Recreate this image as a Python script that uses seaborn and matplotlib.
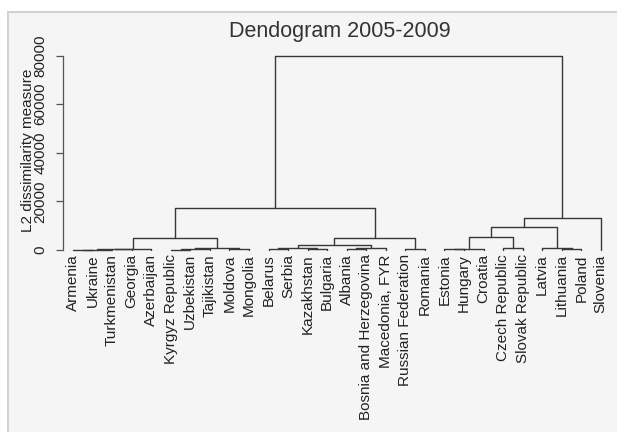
import numpy as np
import pandas as pd
import matplotlib
matplotlib.use("Agg")
import matplotlib.pyplot as plt
import seaborn as sns
from matplotlib.patches import Rectangle

# ---------------- data ----------------
leaves = ["Armenia", "Ukraine", "Turkmenistan", "Georgia", "Azerbaijan",
          "Kyrgyz Republic", "Uzbekistan", "Tajikistan", "Moldova", "Mongolia",
          "Belarus", "Serbia", "Kazakhstan", "Bulgaria", "Albania",
          "Bosnia and Herzegovina", "Macedonia, FYR", "Russian Federation", "Romania",
          "Estonia", "Hungary", "Croatia", "Czech Republic", "Slovak Republic",
          "Latvia", "Lithuania", "Poland", "Slovenia"]

# merges: node n{k} joins merge_a[k] and merge_b[k] at merge_height[k]
merge_a = ["Armenia", "n0", "n1", "n2",
           "Kyrgyz Republic", "n4", "Moldova", "n5", "n3",
           "Belarus", "Kazakhstan", "n9", "Albania", "n12", "n11",
           "Russian Federation", "n14", "n8",
           "Estonia", "n18", "Czech Republic", "n19",
           "Lithuania", "Latvia", "n21", "n24", "n17"]
merge_b = ["Ukraine", "Turkmenistan", "Georgia", "Azerbaijan",
           "Uzbekistan", "Tajikistan", "Mongolia", "n6", "n7",
           "Serbia", "Bulgaria", "n10", "Bosnia and Herzegovina", "Macedonia, FYR", "n13",
           "Romania", "n15", "n16",
           "Hungary", "Croatia", "Slovak Republic", "n20",
           "Poland", "n22", "n23", "Slovenia", "n25"]
merge_height = [100, 200, 350, 550,
                150, 350, 300, 650, 5000,
                300, 450, 800, 400, 1000, 1900,
                300, 4800, 17200,
                250, 550, 700, 5300,
                250, 650, 9400, 13200, 79700]

y_ticks = [0, 20000, 40000, 60000, 80000]
title_text = "Dendogram 2005-2009"
y_title = "L2 dissimilarity measure"

# ---------------- build link segments ----------------
pos = {name: i + 1 for i, name in enumerate(leaves)}
hgt = {name: 0.0 for name in leaves}
rows = []
for k, (a, b, h) in enumerate(zip(merge_a, merge_b, merge_height)):
    xa, xb = pos[a], pos[b]
    for x, y in [(xa, hgt[a]), (xa, h), (xb, h), (xb, hgt[b])]:
        rows.append({"x": x, "y": y, "link": k})
    pos[f"n{k}"] = (xa + xb) / 2
    hgt[f"n{k}"] = h
links = pd.DataFrame(rows)

# ---------------- figure ----------------
sns.set_theme(style="white")
plt.rcParams["font.family"] = ["Liberation Sans", "DejaVu Sans"]

W, H = 617, 432
fig = plt.figure(figsize=(W / 100, H / 100), dpi=100)
fig.patch.set_facecolor("white")
bg = Rectangle((8 / W, -0.05), 1.1, 1 - 12 / H + 0.05,
               transform=fig.transFigure, facecolor="#f5f5f5",
               edgecolor="#d2d2d2", lw=1.5, zorder=-10)
fig.patches.append(bg)

ax_l, ax_r, ax_t, ax_b = 63, 611, 55.5, 250
ax = fig.add_axes([ax_l / W, (H - ax_b) / H, (ax_r - ax_l) / W, (ax_b - ax_t) / H])
ax.set_facecolor("none")
ax.set_zorder(5)

sns.lineplot(data=links, x="x", y="y", units="link", estimator=None, sort=False,
             color="#383838", lw=1.0, ax=ax, clip_on=False)

step = 19.55
ax.set_xlim(1 - (73 - ax_l) / step, 1 + (ax_r - 73) / step)
ax.set_ylim(0, 80000)

ax.set_xticks(range(1, len(leaves) + 1))
ax.set_xticklabels(leaves, rotation=90, fontsize=11, color="#222222")
ax.tick_params(axis="x", length=0, pad=3)

ax.set_yticks(y_ticks)
ax.set_yticklabels([str(v) for v in y_ticks], rotation=90, fontsize=11, color="#222222")
for lab in ax.get_yticklabels():
    lab.set_va("center")
ax.tick_params(axis="y", left=True, length=5, width=0.9, color="#555555", pad=6)

ax.set_xlabel("")
ax.set_ylabel("")
for s in ["top", "right", "bottom"]:
    ax.spines[s].set_visible(False)
ax.spines["left"].set_color("#555555")
ax.spines["left"].set_linewidth(0.9)

fig.text(28 / W, 1 - 150 / H, y_title, rotation=90, ha="center", va="center",
         fontsize=11, color="#222222", zorder=6)
fig.text(340 / W, 1 - 32 / H, title_text, ha="center", va="center",
         fontsize=15.5, color="#333333", zorder=6)

fig.savefig("out.png", dpi=100, facecolor=fig.get_facecolor())
